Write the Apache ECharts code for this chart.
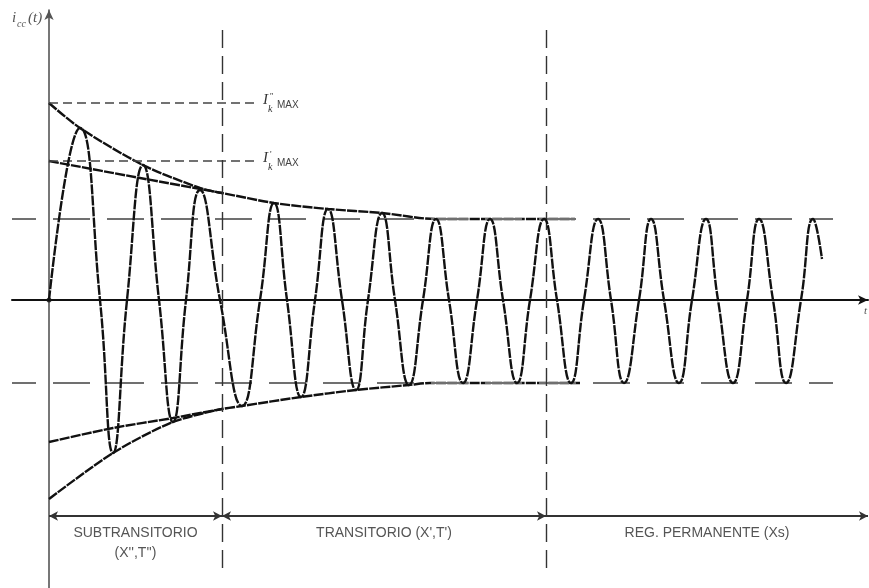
<!DOCTYPE html>
<html>
<head>
<meta charset="utf-8">
<script src="https://cdn.jsdelivr.net/npm/echarts@6/dist/echarts.min.js"></script>
<style>
  html, body { margin: 0; background: #fff; }
  #main { width: 869px; height: 588px; }
</style>
</head>
<body>
<div id="main"></div>
<script>
// puntos: [t, i] (picos, valles y pasos por cero)
const onda = [
  [0,0],[31,172],[51,0],[64,-153],[78,0],[94,135],[110,0],[124,-122],[137,0],
  [151,110],[171,0],[193,-106],[211,0],[225,97],[238,0],[252,-97],[266,0],
  [279,91],[293,0],[307,-90],[319,0],[333,87],[346,0],[360,-85],[374,0],
  [387,81],[400,0],[414,-83],[428,0],[441,81],[454,0],[468,-83],[481,0],
  [495,81],[508,0],[522,-83],[535,0],[549,81],[562,0],[575,-83],[590,0],
  [602,81],[615,0],[630,-83],[643,0],[657,81],[669,0],[684,-83],[698,0],
  [710,81],[724,0],[737,-83],[752,0],[764,81],[773,41]
];
// envolventes
const envSubSup = [[0,197],[31,172],[94,135],[151,112],[173,107]];
const envSubInf = [[0,-199],[64,-153],[124,-122],[173,-109]];
const envTrSup = [[0,139],[91,122],[173,107],[225,97],[279,91],[333,87],[387,81],[526,81]];
const envTrInf = [[0,-142],[64,-128],[124,-118],[173,-109],[193,-106],[252,-97],[307,-90],[360,-85],[381,-83],[531,-83]];

const ampPermanente = [81, -83];
const iMax = [197, 139];           // I''k MAX, I'k MAX
const etiquetasPrima = ["''", "'"];
const limites = [0, 173, 497, 819]; // subtransitorio | transitorio | permanente
const yFlecha = -216;
const regiones = ['SUBTRANSITORIO', 'TRANSITORIO (X\',T\')', 'REG. PERMANENTE (Xs)'];

const negro = '#111';
const gris = '#707070';

let chart = echarts.init(document.getElementById('main'));

let lineaOnda = { color: negro, width: 2.4, type: [10, 1.2] };

let option = {
  animation: false,
  backgroundColor: '#fff',
  grid: { left: 12, right: 1, top: 10, bottom: 0 },
  xAxis: {
    type: 'value', min: -37, max: 819,
    axisLine: { onZero: true, symbol: ['none', 'arrow'], symbolSize: [7, 10],
      lineStyle: { color: negro, width: 2 } },
    axisTick: { show: false }, axisLabel: { show: false }, splitLine: { show: false }
  },
  yAxis: {
    type: 'value', min: -288, max: 290,
    axisLine: { onZero: true, symbol: ['none', 'arrow'], symbolSize: [7, 10],
      lineStyle: { color: '#555', width: 1.6 } },
    axisTick: { show: false }, axisLabel: { show: false }, splitLine: { show: false }
  },
  series: [
    {
      type: 'line', data: onda, smooth: 0.5, showSymbol: false,
      lineStyle: lineaOnda, z: 5,
      markLine: {
        silent: true, symbol: 'none', label: { show: false },
        data: [
          // amplitud en regimen permanente
          [{ coord: [-37, ampPermanente[0]], lineStyle: { color: gris, width: 2, type: [37, 17], dashOffset: 13 } },
           { coord: [784, ampPermanente[0]] }],
          [{ coord: [-37, ampPermanente[1]], lineStyle: { color: gris, width: 2, type: [37, 17], dashOffset: 13 } },
           { coord: [784, ampPermanente[1]] }],
          // I''k MAX, I'k MAX
          [{ coord: [0, iMax[0]], lineStyle: { color: '#444', width: 1.5, type: [9, 5] } }, { coord: [206, iMax[0]] }],
          [{ coord: [0, iMax[1]], lineStyle: { color: '#444', width: 1.5, type: [9, 5] } }, { coord: [206, iMax[1]] }],
          // limites entre periodos
          [{ coord: [limites[1], 270], lineStyle: { color: '#333', width: 1.4, type: [18, 8] } }, { coord: [limites[1], -272] }],
          [{ coord: [limites[2], 270], lineStyle: { color: '#333', width: 1.4, type: [18, 8] } }, { coord: [limites[2], -272] }]
        ]
      }
    },
    { type: 'line', data: envSubSup, smooth: 0.3, showSymbol: false, lineStyle: lineaOnda },
    { type: 'line', data: envSubInf, smooth: 0.3, showSymbol: false, lineStyle: lineaOnda },
    { type: 'line', data: envTrSup, smooth: 0.3, showSymbol: false, lineStyle: lineaOnda },
    { type: 'line', data: envTrInf, smooth: 0.3, showSymbol: false, lineStyle: lineaOnda },
    {
      type: 'scatter', data: [[0, 0]], symbolSize: 5, itemStyle: { color: negro }, z: 6,
      markLine: {
        silent: true, label: { show: false }, symbolSize: [7, 9],
        lineStyle: { color: '#333', width: 2, type: 'solid' },
        data: [
          [{ coord: [limites[0], yFlecha], symbol: 'arrow' }, { coord: [limites[1], yFlecha], symbol: 'arrow' }],
          [{ coord: [limites[1], yFlecha], symbol: 'arrow' }, { coord: [limites[2], yFlecha], symbol: 'arrow' }],
          [{ coord: [limites[2], yFlecha], symbol: 'none' }, { coord: [limites[3], yFlecha], symbol: 'arrow' }]
        ]
      }
    }
  ]
};
chart.setOption(option);

// textos colocados con las escalas del grafico
let px = (t, i) => chart.convertToPixel({ gridIndex: 0 }, [t, i]);
let textos = [];
let fuente = 'Liberation Sans, Arial, sans-serif';
let serif = 'Liberation Serif, Times New Roman, serif';

// i_cc(t)
textos.push({ type: 'text', x: 12, y: 11, style: { text: 'i', font: 'italic 15px ' + serif, fill: '#555' } });
textos.push({ type: 'text', x: 17, y: 19, style: { text: 'cc', font: 'italic 10px ' + serif, fill: '#555' } });
textos.push({ type: 'text', x: 28, y: 11, style: { text: '(t)', font: 'italic 15px ' + serif, fill: '#555' } });

iMax.forEach(function (v, k) {
  let p = px(206, v);
  let x0 = p[0] + 8, y0 = p[1];
  textos.push({ type: 'text', x: x0, y: y0 - 10, style: { text: 'I', font: 'italic 15px ' + serif, fill: '#333' } });
  textos.push({ type: 'text', x: x0 + 7, y: y0 - 11, style: { text: etiquetasPrima[k], font: '9px ' + serif, fill: '#333' } });
  textos.push({ type: 'text', x: x0 + 5, y: y0 + 1, style: { text: 'k', font: 'italic 10px ' + serif, fill: '#333' } });
  textos.push({ type: 'text', x: x0 + 14, y: y0 - 3, style: { text: 'MAX', font: '10px ' + fuente, fill: '#444' } });
});

// t
let pt = px(819, 0);
textos.push({ type: 'text', x: pt[0] - 4, y: pt[1] + 6, style: { text: 't', font: 'italic 11px ' + serif, fill: '#555' } });

// nombres de los periodos
regiones.forEach(function (nombre, k) {
  let p = px((limites[k] + limites[k + 1]) / 2, -233);
  textos.push({ type: 'text', x: p[0], y: p[1], style: { text: nombre, font: '14px ' + fuente, fill: '#555', align: 'center', verticalAlign: 'middle' } });
});
let p2 = px((limites[0] + limites[1]) / 2, -253);
textos.push({ type: 'text', x: p2[0], y: p2[1], style: { text: "(X'',T'')", font: '14px ' + fuente, fill: '#555', align: 'center', verticalAlign: 'middle' } });

chart.setOption({ graphic: textos });
</script>
</body>
</html>
